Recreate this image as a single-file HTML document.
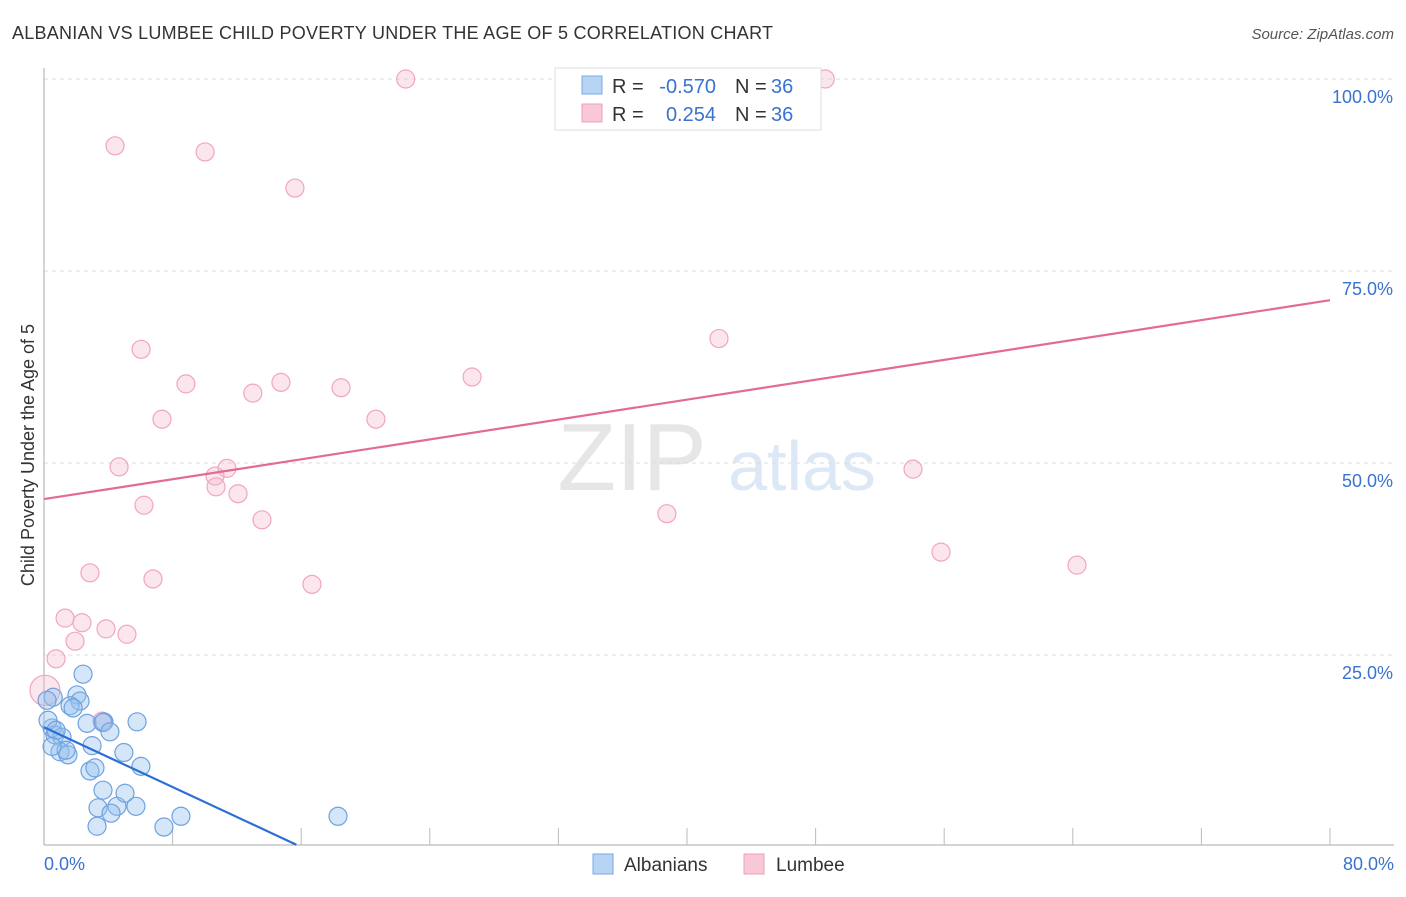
<!DOCTYPE html>
<html><head><meta charset="utf-8"><style>
body{margin:0;background:#fff;font-family:"Liberation Sans",sans-serif}
svg text{font-family:"Liberation Sans",sans-serif}
</style></head><body>
<svg id="c" width="1406" height="892">
<text x="12" y="39" font-size="18" fill="#333" textLength="761">ALBANIAN VS LUMBEE CHILD POVERTY UNDER THE AGE OF 5 CORRELATION CHART</text>
<text x="1394" y="39" font-size="15" fill="#555" text-anchor="end" font-style="italic">Source: ZipAtlas.com</text>
<text x="632" y="490" font-size="96" fill="#e6e6e6" font-family="Liberation Serif" text-anchor="middle">ZIP</text>
<text x="802" y="490" font-size="70" fill="#dce8f6" text-anchor="middle">atlas</text>
<g id="grid"></g><g id="pts"></g><g id="lines"></g>
<text transform="translate(34,455) rotate(-90)" font-size="18" fill="#333" text-anchor="middle">Child Poverty Under the Age of 5</text>
<g>
<rect x="555" y="68" width="266" height="62" fill="#fff" stroke="#ddd"/>
<rect x="582" y="76" width="20" height="18" fill="#b8d4f4" stroke="#7aa8e0"/>
<rect x="582" y="104" width="20" height="18" fill="#f8c8d6" stroke="#f0a0b8"/>
<text x="612" y="93" font-size="20" fill="#333">R =</text>
<text x="716" y="93" font-size="20" fill="#3a72d0" text-anchor="end">-0.570</text>
<text x="735" y="93" font-size="20" fill="#333">N =</text>
<text x="771" y="93" font-size="20" fill="#3a72d0">36</text>
<text x="612" y="121" font-size="20" fill="#333">R =</text>
<text x="716" y="121" font-size="20" fill="#3a72d0" text-anchor="end">0.254</text>
<text x="735" y="121" font-size="20" fill="#333">N =</text>
<text x="771" y="121" font-size="20" fill="#3a72d0">36</text>
</g>
<g>
<rect x="593" y="854" width="20" height="20" fill="#b8d4f4" stroke="#7aa8e0"/>
<text x="624" y="871" font-size="19" fill="#333">Albanians</text>
<rect x="744" y="854" width="20" height="20" fill="#f8c8d6" stroke="#f0a0b8"/>
<text x="776" y="871" font-size="19" fill="#333">Lumbee</text>
</g>
</svg>
<script>
const yTicks=[25,50,75,100];
const yTickLabels=["25.0%","50.0%","75.0%","100.0%"];
const xTickLabels=["0.0%","80.0%"];
const blueX=[0.57,2.43,2.05,2.24,1.62,1.81,2.68,3.73,3.67,5.79,4.10,0.50,0.68,1.12,0.995,1.49,2.99,1.37,2.86,3.17,4.97,6.03,3.67,3.36,4.54,4.17,5.72,5.04,3.30,7.46,8.52,18.29,0.25,0.75,0.19,0.50];
const blueY=[19.5,22.5,19.8,19.0,18.4,18.1,16.1,16.3,16.2,16.3,15.0,15.5,14.6,14.3,12.4,12.0,13.2,12.6,9.9,10.3,12.3,10.5,7.4,5.1,5.3,4.4,5.3,7.0,2.7,2.6,4.0,4.0,16.5,15.2,19.1,13.1];
const pinkX=[22.5,48.6,4.42,10.02,15.61,6.04,41.99,8.83,14.74,12.99,18.48,26.63,7.34,20.65,4.67,11.38,10.64,10.70,12.07,6.22,13.56,38.75,54.06,55.80,64.26,2.86,6.78,16.67,1.31,2.36,3.86,5.16,1.93,0.75,0.06,3.61];
const pinkY=[100,100,91.3,90.5,85.8,64.8,66.2,60.3,60.5,59.1,59.8,61.2,55.7,55.7,49.5,49.3,48.3,46.9,46.0,44.5,42.6,43.4,49.2,38.4,36.7,35.7,34.9,34.2,29.8,29.2,28.4,27.7,26.8,24.5,20.4,16.4];
const pinkR=[9,9,9,9,9,9,9,9,9,9,9,9,9,9,9,9,9,9,9,9,9,9,9,9,9,9,9,9,9,9,9,9,9,9,15,9];
const pinkTrend=[45.3,71.2];
const blueTrend=[[0,15.6],[15.7,0.3]];
const X=v=>44+v*16.075, Y=v=>847-v*7.68;
const NS="http://www.w3.org/2000/svg";
function mk(t,a,p){const e=document.createElementNS(NS,t);for(const k in a)e.setAttribute(k,a[k]);p.appendChild(e);return e;}
const g=document.getElementById('grid');
yTicks.forEach((t,i)=>{
 const l=mk('line',{x1:44,x2:1394,y1:Y(t),y2:Y(t),stroke:'#ddd','stroke-dasharray':'4,4'},g);
 
 
 const tx=mk('text',{x:1393,y:Y(t)+24,'font-size':18,fill:'#3a72d0','text-anchor':'end'},g);
 tx.textContent=yTickLabels[i];
 
 
});
const ax=mk('line',{x1:44,x2:44,y1:68,y2:845,stroke:'#aaa'},g);


const bx=mk('line',{x1:44,x2:1394,y1:845,y2:845,stroke:'#aaa'},g);


for(let i=1;i<=10;i++){const tk=mk('line',{x1:X(i*8),x2:X(i*8),y1:828,y2:845,stroke:'#bbb'},g);
 
 }
[[0,'start',44],[80,'end',1394]].forEach((d,i)=>{const t=mk('text',{x:d[2],y:870,'font-size':18,fill:'#3a72d0','text-anchor':d[1]},g);t.textContent=xTickLabels[i];
 
 });
const p=document.getElementById('pts');
pinkX.forEach((x,i)=>{const c=mk('circle',{cx:X(x),cy:Y(pinkY[i]),r:pinkR[i],fill:'rgba(246,182,202,0.35)',stroke:'#f0a6bd','stroke-width':1.2},p);
 
 });
blueX.forEach((x,i)=>{const c=mk('circle',{cx:X(x),cy:Y(blueY[i]),r:9,fill:'rgba(150,192,238,0.4)',stroke:'#6ea2e0','stroke-width':1.2},p);
 
 });
const L=document.getElementById('lines');
const pl=mk('line',{x1:X(0),y1:Y(pinkTrend[0]),x2:X(80),y2:Y(pinkTrend[1]),stroke:'#e46a96','stroke-width':2.2},L);


const bl=mk('line',{x1:X(blueTrend[0][0]),y1:Y(blueTrend[0][1]),x2:X(blueTrend[1][0]),y2:Y(blueTrend[1][1]),stroke:'#2a6fd6','stroke-width':2.2},L);


</script>
</body></html>
